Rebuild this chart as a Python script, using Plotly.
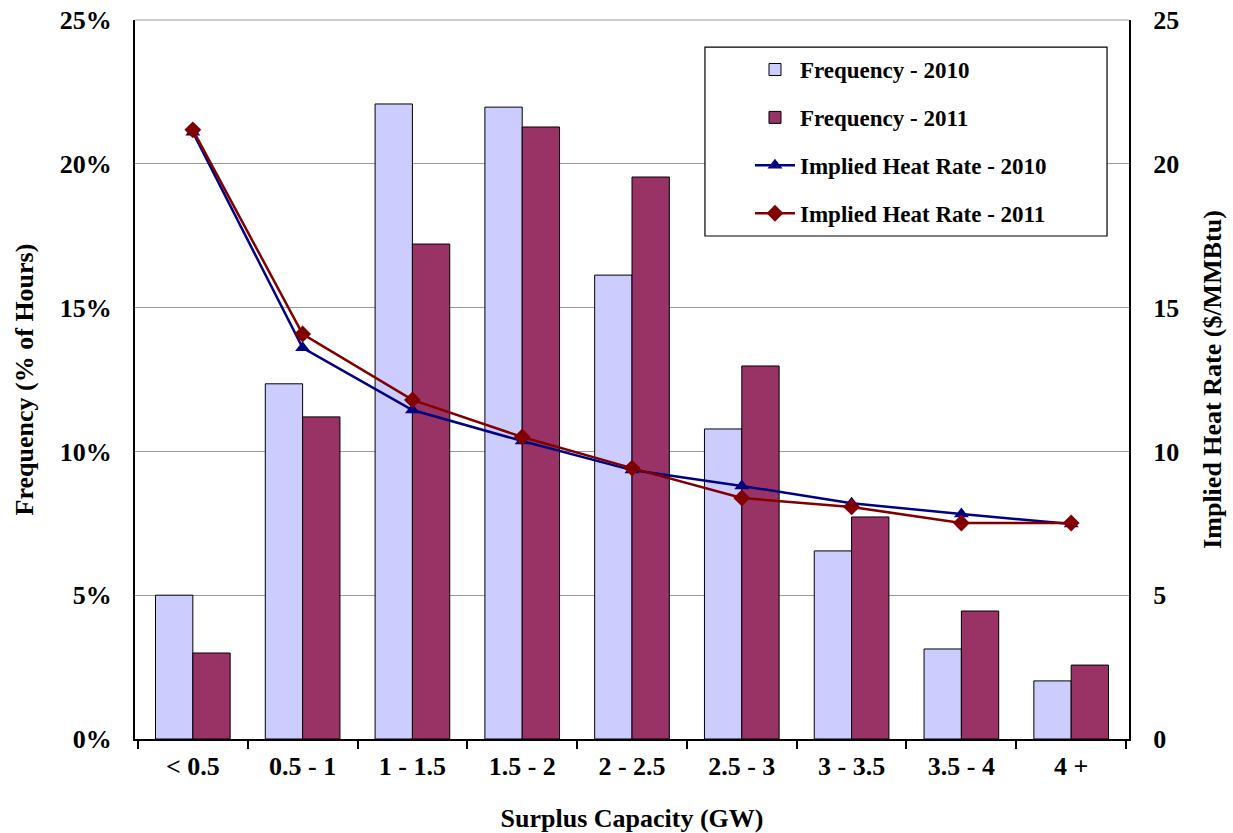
import plotly.graph_objects as go

# Surplus capacity bins
categories = ["< 0.5", "0.5 - 1", "1 - 1.5", "1.5 - 2", "2 - 2.5",
              "2.5 - 3", "3 - 3.5", "3.5 - 4", "4 +"]

# Share of hours in each bin (%)
freq_2010 = [5.0, 12.35, 22.08, 21.97, 16.13, 10.78, 6.54, 3.13, 2.02]
freq_2011 = [2.99, 11.2, 17.21, 21.28, 19.54, 12.97, 7.72, 4.45, 2.57]

# Implied heat rate ($/MMBtu)
heat_2010 = [21.1, 13.6, 11.44, 10.36, 9.35, 8.8, 8.2, 7.82, 7.48]
heat_2011 = [21.18, 14.08, 11.79, 10.5, 9.42, 8.38, 8.07, 7.51, 7.51]

FONT = "Liberation Serif"

fig = go.Figure()

fig.add_trace(go.Bar(
    x=categories, y=freq_2010, name="<b>Frequency - 2010</b>",
    marker=dict(color="#CCCCFF", line=dict(color="#000000", width=1)),
    legendgroup="a", legendrank=1,
))
fig.add_trace(go.Bar(
    x=categories, y=freq_2011, name="<b>Frequency - 2011</b>",
    marker=dict(color="#993366", line=dict(color="#000000", width=1)),
    legendgroup="b", legendrank=2,
))
fig.add_trace(go.Scatter(
    x=categories, y=heat_2010, name="<b>Implied Heat Rate - 2010</b>",
    mode="lines+markers", yaxis="y2",
    line=dict(color="#000080", width=2.5),
    marker=dict(symbol="triangle-up", size=13, color="#000080"),
    legendgroup="c", legendrank=3,
))
fig.add_trace(go.Scatter(
    x=categories, y=heat_2011, name="<b>Implied Heat Rate - 2011</b>",
    mode="lines+markers", yaxis="y2",
    line=dict(color="#800000", width=2.5),
    marker=dict(symbol="diamond", size=13, color="#800000"),
    legendgroup="d", legendrank=4,
))

fig.update_layout(
    width=1233, height=833,
    margin=dict(l=135, r=104, t=20, b=94, autoexpand=False),
    paper_bgcolor="white", plot_bgcolor="white",
    font=dict(family=FONT, color="black", size=24),
    barmode="group", bargap=0.32, bargroupgap=0,
    showlegend=True,
    legend=dict(
        x=0.6187, y=0.961, xanchor="left", yanchor="top",
        bgcolor="rgba(0,0,0,0)", borderwidth=0,
        font=dict(family=FONT, size=23, color="black"),
        tracegroupgap=15, traceorder="grouped",
        itemwidth=40,
    ),
    xaxis=dict(
        type="category", automargin=False,
        showline=True, linecolor="black", linewidth=2,
        ticks="outside", tickson="boundaries", ticklen=8,
        tickcolor="black", tickwidth=1.5,
        tickfont=dict(family=FONT, size=26, color="black"),
        tickprefix="<b>", ticksuffix="</b>",
        ticklabelstandoff=3,
        showgrid=False,
        title=dict(text="<b>Surplus Capacity (GW)</b>",
                   font=dict(family=FONT, size=26, color="black"),
                   standoff=32),
    ),
    yaxis=dict(
        range=[0, 25], tickvals=[0, 5, 10, 15, 20, 25],
        ticktext=["<b>0%</b>", "<b>5%</b>", "<b>10%</b>", "<b>15%</b>",
                  "<b>20%</b>", "<b>25%</b>"],
        automargin=False,
        showline=True, linecolor="black", linewidth=2,
        showgrid=True, gridcolor="#999999", gridwidth=1.2,
        zeroline=False, ticks="",
        tickfont=dict(family=FONT, size=26, color="black"),
        ticklabelstandoff=16,
        title=dict(text="<b>Frequency (% of Hours)</b>",
                   font=dict(family=FONT, size=26, color="black"),
                   standoff=19),
    ),
    yaxis2=dict(
        overlaying="y", side="right", automargin=False,
        range=[0, 25], tickvals=[0, 5, 10, 15, 20, 25],
        ticktext=["<b>0</b>", "<b>5</b>", "<b>10</b>", "<b>15</b>",
                  "<b>20</b>", "<b>25</b>"],
        showline=True, linecolor="black", linewidth=2,
        showgrid=False, zeroline=False, ticks="",
        tickfont=dict(family=FONT, size=26, color="black"),
        ticklabelstandoff=17,
        title=dict(text="<b>Implied Heat Rate ($/MMBtu)</b>",
                   font=dict(family=FONT, size=26, color="black"),
                   standoff=25),
    ),
    shapes=[
        # legend frame
        dict(type="rect", xref="paper", yref="paper",
             x0=0.5734, x1=0.9779, y0=0.6996, y1=0.9624,
             line=dict(color="black", width=1.2), fillcolor="white",
             layer="above"),
        # top border gridline
        dict(type="line", xref="paper", yref="paper",
             x0=0, x1=1, y0=1, y1=1,
             line=dict(color="#999999", width=1.2)),
    ],
)

fig.write_html("out.html")
